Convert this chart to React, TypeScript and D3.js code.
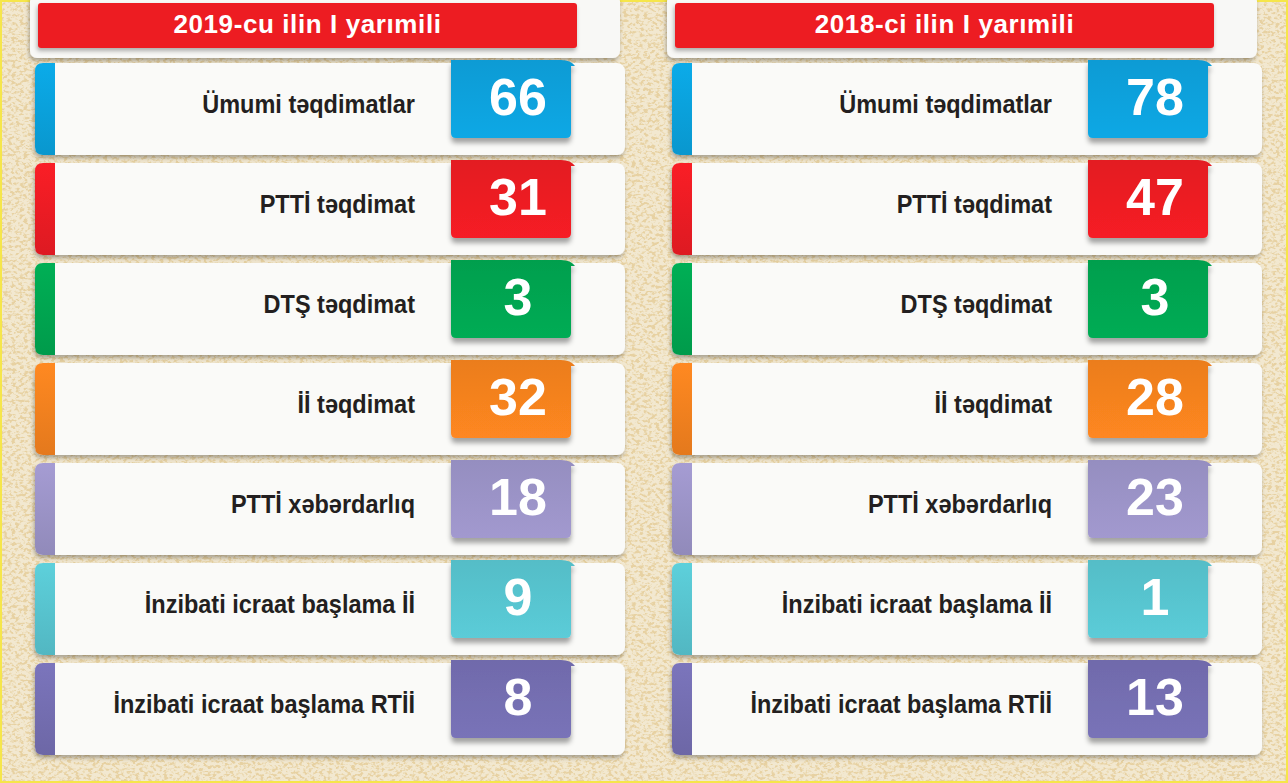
import React from "react";
import * as d3 from "d3";

const W = 1288;
const H = 783;

const periods = ["2019-cu ilin I yarımili", "2018-ci ilin I yarımili"];
const categories = [
  "Ümumi təqdimatlar",
  "PTTİ təqdimat",
  "DTŞ təqdimat",
  "İİ təqdimat",
  "PTTİ xəbərdarlıq",
  "İnzibati icraat başlama İİ",
  "İnzibati icraat başlama RTİİ",
];
const values2019 = [66, 31, 3, 32, 18, 9, 8];
const values2018 = [78, 47, 3, 28, 23, 1, 13];
const colors = ["#0aa2dd", "#ed1c24", "#00a651", "#f5821f", "#9c94c8", "#58c5d0", "#756fb2"];

const FONT = "'Liberation Sans', Arial, Helvetica, sans-serif";

export default function App() {
  React.useEffect(() => {
    document.body.style.margin = "0";
  }, []);

  const x = d3.scaleBand<string>().domain(periods).range([35, 35 + 637 * 2]).paddingInner(0);
  const y = d3.scaleLinear().domain([0, categories.length]).range([63, 63 + 100 * categories.length]);
  const cardW = 590;
  const cardH = 92;
  const series = [values2019, values2018];

  const boxPath = (bx: number, by: number, bw: number, bh: number) => {
    const r = 5;
    return `M${bx},${by} L${bx + bw - 10},${by} Q${bx + bw},${by} ${bx + bw + 4},${by + 6} L${bx + bw},${by + 6}
      L${bx + bw},${by + bh - r} Q${bx + bw},${by + bh} ${bx + bw - r},${by + bh}
      L${bx + r},${by + bh} Q${bx},${by + bh} ${bx},${by + bh - r} Z`;
  };

  return (
    <div style={{ position: "absolute", left: 0, top: 0, width: W, height: H }}>
      <svg width={W} height={H} viewBox={`0 0 ${W} ${H}`} style={{ display: "block" }}>
        <defs>
          <filter id="paper" x="0" y="0" width="100%" height="100%">
            <feTurbulence type="fractalNoise" baseFrequency="0.25 0.35" numOctaves="3" seed="7" result="n" />
            <feColorMatrix
              in="n"
              type="matrix"
              values="0 0 0 0 0.80  0 0 0 0 0.64  0 0 0 0 0.36  5.5 0 0 0 -2.6"
            />
          </filter>
          <filter id="shadow" x="-10%" y="-20%" width="120%" height="150%">
            <feDropShadow dx="-1" dy="3" stdDeviation="2" floodColor="#000" floodOpacity="0.3" />
          </filter>
          <filter id="boxshadow" x="-20%" y="-20%" width="140%" height="150%">
            <feDropShadow dx="0" dy="5" stdDeviation="2.5" floodColor="#000" floodOpacity="0.35" />
          </filter>
          {colors.map((c, i) => (
            <linearGradient key={i} id={`g${i}`} x1="0" y1="0" x2="0" y2="1">
              <stop offset="0" stopColor={d3.color(c)!.brighter(0.15).formatHex()} />
              <stop offset="1" stopColor={d3.color(c)!.darker(0.2).formatHex()} />
            </linearGradient>
          ))}
          {colors.map((c, i) => (
            <linearGradient key={i} id={`b${i}`} x1="0" y1="0" x2="0" y2="1">
              <stop offset="0" stopColor={d3.color(c)!.darker(0.12).formatHex()} />
              <stop offset="1" stopColor={d3.color(c)!.brighter(0.1).formatHex()} />
            </linearGradient>
          ))}
        </defs>

        <rect x={0} y={0} width={W} height={H} fill="#f2e8d0" />
        <rect x={0} y={0} width={W} height={H} filter="url(#paper)" />
        <rect x={1} y={1} width={W - 2} height={H - 2} fill="none" stroke="#f6e64a" strokeWidth={2} />

        {periods.map((p, pi) => {
          const px = x(p)!;
          return (
            <g key={p}>
              {/* header */}
              <rect x={px - 5} y={-6} width={cardW} height={64} rx={7} fill="#f8f8f6" filter="url(#shadow)" />
              <rect x={px + 3} y={3} width={539} height={45} rx={3} fill="#ed1c24" filter="url(#shadow)" />
              <text
                x={px + 3 + 539 / 2}
                y={33}
                textAnchor="middle"
                fill="#fff"
                fontFamily={FONT}
                fontWeight="bold"
                fontSize={26}
                letterSpacing={0.6}
              >
                {p}
              </text>

              {categories.map((c, i) => {
                const cy = y(i);
                const v = series[pi][i];
                return (
                  <g key={c}>
                    <rect x={px} y={cy} width={cardW} height={cardH} rx={8} fill="#fafaf8" filter="url(#shadow)" />
                    <path
                      d={`M${px + 20},${cy} L${px + 8},${cy} Q${px},${cy} ${px},${cy + 8} L${px},${cy + cardH - 8} Q${px},${cy + cardH} ${px + 8},${cy + cardH} L${px + 20},${cy + cardH} Z`}
                      fill={`url(#g${i})`}
                    />
                    <text
                      transform={`translate(${px + 380},${cy + 50}) scale(0.94,1)`}
                      textAnchor="end"
                      fill="#231f20"
                      fontFamily={FONT}
                      fontWeight="bold"
                      fontSize={25}
                    >
                      {c}
                    </text>
                    <path d={boxPath(px + 416, cy - 3, 120, 78)} fill={`url(#b${i})`} filter="url(#boxshadow)" />
                    <text
                      x={px + 416 + 67}
                      y={cy + 52}
                      textAnchor="middle"
                      fill="#fff"
                      fontFamily={FONT}
                      fontWeight="bold"
                      fontSize={52}
                    >
                      {v}
                    </text>
                  </g>
                );
              })}
            </g>
          );
        })}
      </svg>
    </div>
  );
}
